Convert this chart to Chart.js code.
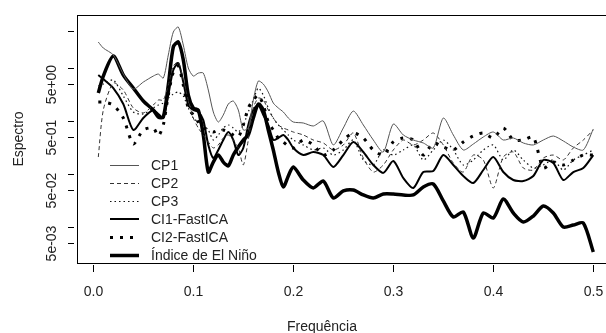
<!DOCTYPE html>
<html>
<head>
<meta charset="utf-8">
<script src="https://cdn.jsdelivr.net/npm/chart.js@4"></script>
<style>
  html, body { margin: 0; padding: 0; background: #fff; overflow: hidden; }
  #wrap { width: 614px; height: 333px; }
</style>
</head>
<body>
<div id="wrap"><canvas id="myChart" width="614" height="333"></canvas></div>
<script>
// frequências (eixo x)
const freq = [0.005, 0.01, 0.02, 0.03, 0.04, 0.05, 0.06, 0.065, 0.07, 0.075, 0.08, 0.085, 0.09, 0.095,
  0.1, 0.105, 0.11, 0.115, 0.12, 0.125, 0.13, 0.135, 0.14, 0.145, 0.15, 0.155, 0.16, 0.165, 0.17,
  0.175, 0.18, 0.185, 0.19, 0.195, 0.2, 0.21, 0.22, 0.23, 0.24, 0.25, 0.26, 0.27, 0.28, 0.29, 0.3,
  0.31, 0.32, 0.33, 0.34, 0.35, 0.36, 0.37, 0.38, 0.39, 0.4, 0.41, 0.42, 0.43, 0.44, 0.45, 0.46,
  0.47, 0.48, 0.49, 0.5];

// espectros
const cp1 = [30.9, 23.8, 17.6, 7.68, 4.01, 5.43, 7.05, 7.68, 6.46, 17.6, 47.7, 59.2, 27.1, 10.0,
  7.05, 8.02, 8.02, 3.84, 1.48, 0.957, 1.30, 2.09, 2.38, 1.61, 0.677, 0.738, 2.49, 5.67, 4.98,
  3.52, 2.18, 1.76, 1.48, 1.14, 0.957, 0.917, 0.805, 1.00, 0.353, 0.738, 1.54, 0.841, 0.438, 0.260,
  0.878, 0.545, 0.438, 0.385, 0.310, 1.14, 0.545, 0.284, 0.368, 0.499, 0.620, 0.438, 0.478, 0.385,
  0.353, 0.438, 0.521, 0.420, 0.323, 0.284, 0.707];
const cp2 = [0.209, 1.61, 5.20, 3.84, 1.76, 1.42, 2.00, 2.49, 2.49, 4.77, 10.9, 13.0, 5.92, 2.49,
  1.14, 0.738, 0.545, 0.402, 0.310, 0.353, 0.478, 0.545, 0.438, 0.310, 0.148, 0.438, 1.76, 2.71,
  2.49, 1.61, 1.14, 0.841, 0.738, 0.677, 0.620, 0.545, 0.438, 0.385, 0.284, 0.353, 0.594, 0.200,
  0.109, 0.148, 0.284, 0.438, 0.353, 0.438, 0.594, 0.353, 0.161, 0.109, 0.228, 0.184, 0.0545,
  0.209, 0.260, 0.130, 0.119, 0.200, 0.228, 0.184, 0.310, 0.438, 0.677];
const cp3 = [4.57, 4.98, 5.92, 2.96, 1.48, 1.36, 1.76, 2.00, 2.18, 2.71, 3.23, 3.52, 2.96, 1.76,
  1.14, 0.957, 0.841, 0.677, 0.438, 0.545, 0.738, 0.841, 0.738, 0.620, 0.841, 1.48, 2.49, 4.19,
  3.09, 1.76, 1.14, 0.841, 0.677, 0.545, 0.438, 0.353, 0.284, 0.310, 0.228, 0.284, 0.438, 0.184,
  0.148, 0.284, 0.228, 0.284, 0.353, 0.184, 0.284, 0.438, 0.284, 0.148, 0.184, 0.284, 0.353,
  0.184, 0.284, 0.184, 0.130, 0.148, 0.184, 0.119, 0.184, 0.228, 0.284];
const ci1 = [7.36, 6.19, 4.19, 2.09, 0.677, 1.14, 1.61, 1.36, 1.14, 3.09, 9.14, 12.4, 5.43, 2.00,
  1.61, 1.48, 1.04, 0.353, 0.200, 0.284, 0.438, 0.620, 0.438, 0.228, 0.310, 0.841, 1.61, 2.00,
  1.30, 0.841, 0.438, 0.478, 0.545, 0.438, 0.310, 0.228, 0.260, 0.228, 0.136, 0.228, 0.402, 0.260,
  0.148, 0.105, 0.176, 0.0841, 0.0545, 0.109, 0.114, 0.228, 0.148, 0.0917, 0.0677, 0.119, 0.209,
  0.109, 0.0771, 0.0738, 0.0917, 0.184, 0.161, 0.0771, 0.109, 0.130, 0.228];
const ci2 = [2.28, 2.28, 2.00, 1.14, 0.368, 0.677, 0.738, 0.521, 0.841, 3.09, 8.38, 10.9, 4.77, 1.76,
  1.30, 0.957, 0.738, 0.677, 0.620, 0.677, 0.677, 0.620, 0.545, 0.499, 0.841, 1.76, 2.49, 3.09,
  2.00, 0.957, 0.677, 0.478, 0.402, 0.338, 0.310, 0.438, 0.353, 0.228, 0.284, 0.438, 0.594, 0.478,
  0.284, 0.228, 0.402, 0.478, 0.438, 0.228, 0.385, 0.323, 0.284, 0.402, 0.521, 0.594, 0.478,
  0.738, 0.438, 0.438, 0.499, 0.130, 0.168, 0.148, 0.184, 0.228, 0.228];
const nino = [3.37, 7.05, 16.8, 7.36, 4.19, 2.38, 1.61, 1.19, 1.19, 4.77, 24.9, 30.9, 14.2, 3.09,
  1.76, 1.61, 0.545, 0.109, 0.168, 0.228, 0.168, 0.142, 0.228, 0.323, 0.438, 0.545, 1.14, 2.09,
  1.61, 0.677, 0.284, 0.109, 0.0569, 0.0917, 0.136, 0.0771, 0.0545, 0.0738, 0.0353, 0.0478,
  0.0499, 0.0402, 0.0353, 0.0420, 0.0420, 0.0402, 0.0402, 0.0569, 0.0648, 0.0310, 0.0154, 0.0192,
  0.00620, 0.0184, 0.0148, 0.0338, 0.0184, 0.0124, 0.0161, 0.0249, 0.0184, 0.0100, 0.0109,
  0.0119, 0.00338];

// marcas dos eixos
const xTicks = [0, 0.1, 0.2, 0.3, 0.4, 0.5];
const xTickLabels = ['0.0', '0.1', '0.2', '0.3', '0.4', '0.5'];
const yTicks = [0.005, 0.01, 0.05, 0.1, 0.5, 1, 5, 10, 50];
const yTickLabels = ['5e-03', '', '5e-02', '', '5e-01', '', '5e+00', '', ''];

const FONT = '14px "Liberation Sans", Arial, sans-serif';

function serie(vals) {
    return freq.map((f, i) => ({ x: f, y: vals[i] }));
}

// desenha caixa, eixos e legenda no estilo do R
const eixosR = {
    id: 'eixosR',
    afterDraw(chart) {
        const ctx = chart.ctx;
        const a = chart.chartArea;
        const xs = chart.scales.x;
        const ys = chart.scales.y;
        ctx.save();
        ctx.strokeStyle = '#000';
        ctx.lineWidth = 1;
        ctx.setLineDash([]);
        ctx.strokeRect(Math.round(a.left) + 0.5, Math.round(a.top) + 0.5, a.right - a.left + 10, a.bottom - a.top);

        ctx.fillStyle = '#222';
        ctx.font = FONT;

        // eixo x
        ctx.textAlign = 'center';
        ctx.textBaseline = 'middle';
        xTicks.forEach((t, i) => {
            const px = Math.round(xs.getPixelForValue(t)) + 0.5;
            ctx.beginPath();
            ctx.moveTo(px, 265);
            ctx.lineTo(px, 272);
            ctx.stroke();
            ctx.fillText(xTickLabels[i], px, 292);
        });
        ctx.fillText('Frequência', 322, 327);

        // eixo y
        yTicks.forEach((t, i) => {
            const py = Math.round(ys.getPixelForValue(t)) + 0.5;
            ctx.beginPath();
            ctx.moveTo(68, py);
            ctx.lineTo(74, py);
            ctx.stroke();
            if (yTickLabels[i]) {
                ctx.save();
                ctx.translate(52, py);
                ctx.rotate(-Math.PI / 2);
                ctx.fillText(yTickLabels[i], 0, 0);
                ctx.restore();
            }
        });
        ctx.save();
        ctx.translate(19, 139);
        ctx.rotate(-Math.PI / 2);
        ctx.fillText('Espectro', 0, 0);
        ctx.restore();

        // legenda
        ctx.textAlign = 'left';
        chart.data.datasets.forEach((ds, i) => {
            const ly = Math.round(164.5 + i * 18.1);
            ctx.save();
            ctx.strokeStyle = ds.borderColor;
            ctx.lineWidth = ds.borderWidth;
            ctx.setLineDash(ds.borderDash || []);
            ctx.lineCap = 'butt';
            ctx.beginPath();
            ctx.moveTo(110, ly + (ds.borderWidth % 2 ? 0.5 : 0));
            ctx.lineTo(139, ly + (ds.borderWidth % 2 ? 0.5 : 0));
            ctx.stroke();
            ctx.restore();
            ctx.fillText(ds.label, 151, ly + 1);
        });
        ctx.restore();
    }
};

const config = {
    type: 'line',
    data: {
        datasets: [
            { label: 'CP1', data: serie(cp1), borderColor: '#555', borderWidth: 1 },
            { label: 'CP2', data: serie(cp2), borderColor: '#333', borderWidth: 1, borderDash: [4, 3] },
            { label: 'CP3', data: serie(cp3), borderColor: '#111', borderWidth: 1.2, borderDash: [1.5, 3] },
            { label: 'CI1-FastICA', data: serie(ci1), borderColor: '#000', borderWidth: 2 },
            { label: 'CI2-FastICA', data: serie(ci2), borderColor: '#000', borderWidth: 3, borderDash: [3, 7] },
            { label: 'Índice de El Niño', data: serie(nino), borderColor: '#000', borderWidth: 3.5 }
        ]
    },
    options: {
        responsive: false,
        animation: false,
        devicePixelRatio: 1,
        layout: { padding: { left: 77, top: 15, right: 0, bottom: 70 } },
        elements: {
            point: { radius: 0 },
            line: { tension: 0.25, borderJoinStyle: 'round' }
        },
        scales: {
            x: { type: 'linear', min: -0.0163, max: 0.5207, display: false },
            y: { type: 'logarithmic', min: 0.002094, max: 100, display: false }
        },
        plugins: {
            legend: { display: false },
            tooltip: { enabled: false }
        }
    },
    plugins: [eixosR]
};

document.addEventListener('DOMContentLoaded', () => {
    const ctx = document.getElementById('myChart').getContext('2d');
    window.myChart = new Chart(ctx, config);
});
</script>
</body>
</html>
